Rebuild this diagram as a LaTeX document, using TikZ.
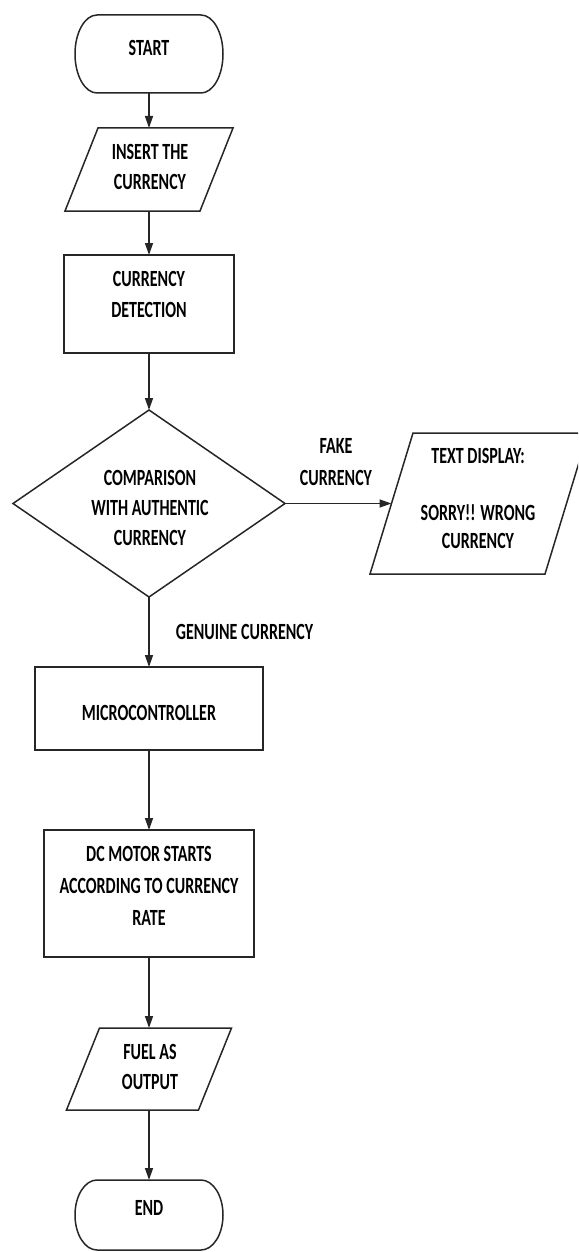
\documentclass[tikz,border=0pt]{standalone}
\usepackage{fontspec}
\setmainfont{Carlito}
\usetikzlibrary{arrows.meta,calc}
\newcommand\vs[1]{\scalebox{1}[1.45]{#1}}
\begin{document}
\begin{tikzpicture}[x=1pt,y=-1pt,
  ln/.style={line width=1.5pt, draw=black!85},
  area/.style 2 args={minimum width=#1pt, minimum height=#2pt, inner sep=0pt, outer sep=0pt},
  box/.style={ln, rectangle},
  txt/.style={align=center, inner sep=0pt, outer sep=0pt, font=\fontsize{16}{30}\selectfont\bfseries},
  arr/.style={ln, -{Triangle[length=12pt,width=8pt]}}]
\useasboundingbox (0,0) rectangle (578,1252);
\begin{scope}
\clip (0,0) rectangle (578,1252);
% START terminal
\node[area={148}{78}] (start) at (149,54) {};
\draw[ln] (97,15) -- (201,15) arc[start angle=90,end angle=-90,x radius=22pt,y radius=39pt]
  -- (97,93) arc[start angle=270,end angle=90,x radius=22pt,y radius=39pt] -- cycle;
\node[txt] (tstart) at (149,48) {\vs{START}};
% INSERT parallelogram
\node[area={168}{83}] (ins) at (149,169.5) {};
\draw[ln] ($(ins.north west)+(33,0)$) -- (ins.north east) -- ($(ins.south east)-(33,0)$) -- (ins.south west) -- cycle;
\node[txt] (tins) at (150,167) {\vs{INSERT THE}\\\vs{CURRENCY}};
% DETECTION
\node[box, area={170}{98}] (detect) at (149,304) {};
\node[txt, font=\fontsize{16}{31}\selectfont\bfseries] (tdetect) at (149,294.5) {\vs{CURRENCY}\\\vs{DETECTION}};
% Decision diamond
\node[area={272}{187}] (cmp) at (149,503.5) {};
\draw[ln] (cmp.north) -- (cmp.east) -- (cmp.south) -- (cmp.west) -- cycle;
\node[txt] (tcmp) at (150,507.5) {\vs{COMPARISON}\\\vs{WITH AUTHENTIC}\\\vs{CURRENCY}};
% TEXT DISPLAY parallelogram
\node[area={218}{141}] (disp) at (479,503.5) {};
\draw[ln] ($(disp.north west)+(43,0)$) -- (disp.north east) -- ($(disp.south east)-(43,0)$) -- (disp.south west) -- cycle;
\coordinate (dispin) at ($(disp.west)+(21.5,0)$);
\node[txt, font=\fontsize{16}{28.5}\selectfont\bfseries] (tdisp) at (478,498.5) {\vs{TEXT DISPLAY:}\\ \\\vs{SORRY!! WRONG}\\\vs{CURRENCY}};
% MICROCONTROLLER
\node[box, area={228}{83}] (micro) at (149,708.5) {};
\node[txt] (tmicro) at (149,713) {\vs{MICROCONTROLLER}};
% DC MOTOR
\node[box, area={210}{127}] (dc) at (149,893.5) {};
\node[txt, font=\fontsize{16}{32}\selectfont\bfseries] (tdc) at (149,885.5) {\vs{DC MOTOR STARTS}\\\vs{ACCORDING TO CURRENCY}\\\vs{RATE}};
% FUEL parallelogram
\node[area={165}{82}] (fuel) at (149,1069) {};
\draw[ln] ($(fuel.north west)+(33,0)$) -- (fuel.north east) -- ($(fuel.south east)-(33,0)$) -- (fuel.south west) -- cycle;
\node[txt] (tfuel) at (150,1067) {\vs{FUEL AS}\\\vs{OUTPUT}};
% END terminal
\node[area={148}{70}] (end) at (149,1215) {};
\draw[ln] (97,1180) -- (201,1180) arc[start angle=90,end angle=-90,x radius=22pt,y radius=35pt]
  -- (97,1250) arc[start angle=270,end angle=90,x radius=22pt,y radius=35pt] -- cycle;
\node[txt] (tend) at (149,1208) {\vs{END}};
% connectors
\draw[arr] (start.south) -- (ins.north);
\draw[arr] (ins.south) -- (detect.north);
\draw[arr] (detect.south) -- (cmp.north);
\draw[arr] (cmp.east) -- (dispin);
\draw[arr] (cmp.south) -- (micro.north);
\draw[arr] (micro.south) -- (dc.north);
\draw[arr] (dc.south) -- (fuel.north);
\draw[arr] (fuel.south) -- (end.north);
% edge labels
\node[txt, font=\fontsize{16}{32}\selectfont\bfseries] (tfake) at (336,462) {\vs{FAKE}\\\vs{CURRENCY}};
\node[txt] (tgen) at (244.5,632) {\vs{GENUINE CURRENCY}};
\end{scope}
\end{tikzpicture}
\end{document}
